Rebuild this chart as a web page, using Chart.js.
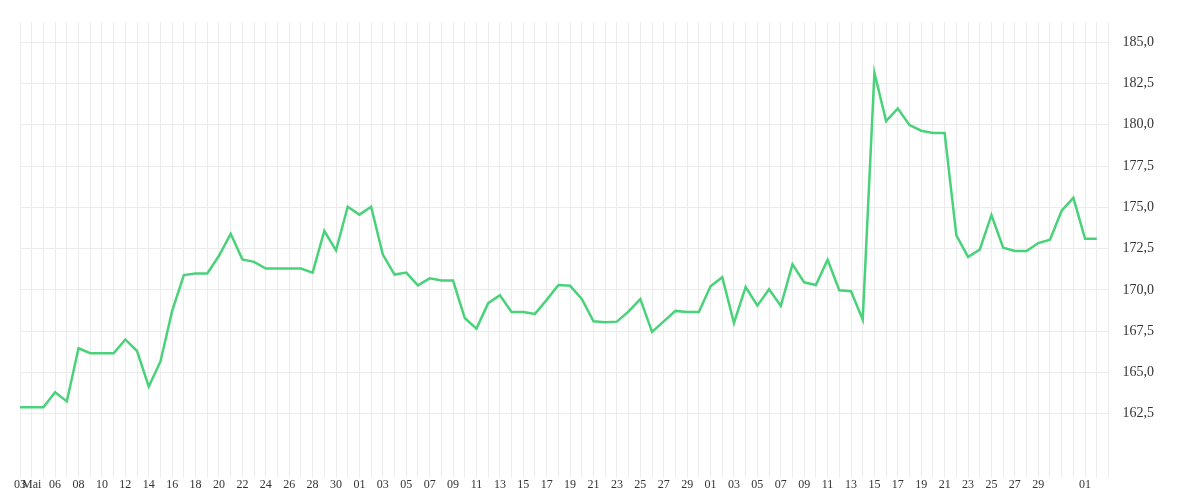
<!DOCTYPE html>
<html><head><meta charset="utf-8">
<script src="https://cdn.jsdelivr.net/npm/chart.js@4"></script>
<style>html,body{margin:0;padding:0;background:#fff}#w{width:1200px;height:500px}</style>
</head><body><div id="w"><canvas id="c"></canvas></div>
<script>
const values = [162.9,162.9,162.9,163.8,163.25,166.47,166.17,166.17,166.17,167.0,166.3,164.15,165.67,168.73,170.9,171.0,171.0,172.07,173.4,171.85,171.7,171.3,171.3,171.3,171.3,171.05,173.57,172.4,175.04,174.56,175.04,172.14,170.93,
171.05,170.28,170.7,170.57,170.57,168.3,167.66,169.2,169.68,168.67,168.67,168.55,169.4,170.3,170.25,169.46,168.1,168.04,168.08,168.7,169.44,167.46,168.1,168.73,168.67,168.67,170.22,170.77,168.0,170.18,169.05,170.04,169.03,171.55,
170.46,170.3,171.83,169.98,169.92,168.2,183.15,180.22,180.99,179.98,179.64,179.5,179.5,173.3,172.0,172.44,174.54,172.56,172.36,172.36,172.84,173.04,174.8,175.58,173.1,173.1];
const tickLabels = ["03","Mai","","06","","08","","10","","12","","14","","16","","18","","20","","22","","24","","26","","28","","30","","01","","03","","05","","07","","09","","11","","13","","15","","17","","19","","21","","23","","25","","27","","29","","01","","03","","05","","07","","09","","11","","13","","15","","17","","19","","21","","23","","25","","27","","29","","","","01","",""];
const yTicks = [162.5,165,167.5,170,172.5,175,177.5,180,182.5,185];
new Chart(document.getElementById('c'), {
  type:'line',
  data:{labels:tickLabels, datasets:[{data:values, borderColor:'#4ad27a', borderWidth:2.5, pointRadius:0, tension:0, fill:false}]},
  options:{responsive:true, maintainAspectRatio:false, animation:false,
    layout:{padding:{left:20,right:32,top:0,bottom:8}},
    plugins:{legend:{display:false},tooltip:{enabled:false}},
    scales:{
      x:{offset:false, grid:{color:'#ececec', drawTicks:true, tickLength:6}, border:{display:false},
        ticks:{autoSkip:false, maxRotation:0, padding:0, color:'#333', font:{family:'Liberation Serif',size:12}}},
      y:{position:'right', min:159, max:186.2, grid:{color:'#ececec', drawTicks:false}, border:{display:false},
        afterBuildTicks:(s)=>{s.ticks=yTicks.map(v=>({value:v}));},
        ticks:{padding:14, color:'#333', font:{family:'Liberation Serif',size:14}, callback:(v)=>v.toFixed(1).replace('.',',')}}
    }}
});
</script></body></html>
